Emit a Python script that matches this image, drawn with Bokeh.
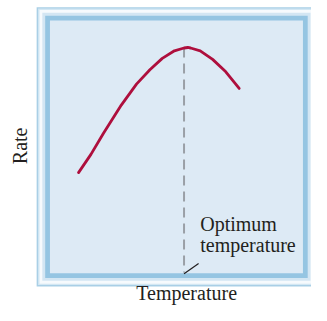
import math
from bokeh.plotting import figure
from bokeh.models import Range1d, ColumnDataSource
from bokeh.core.properties import value
from bokeh.embed import file_html
from bokeh.resources import INLINE

# ---- data (arbitrary units: 0-100 across the panel) ----
temperature = [11.3, 16.2, 21.1, 28.2, 34.2, 39.5, 44.4, 49.2, 53.0, 54.5, 55.6, 59.4, 64.3, 69.5, 74.8]
rate = [39.8, 47.0, 55.3, 66.5, 74.8, 80.5, 85.0, 88.0, 89.1, 89.3, 89.1, 88.0, 84.6, 79.7, 73.1]
optimum_temperature = 53.0
x_label = "Temperature"
y_label = "Rate"
annotation_lines = ["Optimum", "temperature"]

# ---- layout: reference-picture pixels, fitted into the figure ----
REF_W, REF_H = 327, 321
W, H = 311, 305
PANEL_L, PANEL_R, PANEL_T, PANEL_B = 52, 318, 21, 287
sx = (PANEL_R - PANEL_L) / 100.0
sy = (PANEL_B - PANEL_T) / 100.0


def dx(px):
    return (px - PANEL_L) / sx


def dy(py):
    return (PANEL_B - py) / sy


FONT = value("Liberation Serif")
FSIZE = value("20px")
TEXT_COLOR = "#231F20"

p = figure(width=W, height=H,
           x_range=Range1d(dx(0), dx(REF_W)), y_range=Range1d(dy(REF_H), dy(0)),
           x_axis_type=None, y_axis_type=None,
           output_backend="svg", toolbar_location=None,
           min_border=0, min_border_left=0, min_border_right=0,
           min_border_top=0, min_border_bottom=0)
p.outline_line_color = None
p.grid.visible = False
p.background_fill_color = "white"
p.border_fill_color = "white"

# ---- framed panel (nested bands, outsets in reference pixels) ----
layers = [
    (14.0, "#A9CFE6"),
    (12.5, "#D3E7F3"),
    (11.0, "#F6FAFD"),
    (8.0, "#D3E6F3"),
    (5.0, "#95C5E2"),
    (0.0, "#DDEAF5"),
]
frame_src = ColumnDataSource(dict(
    left=[0 - o / sx for o, c in layers],
    right=[100 + o / sx for o, c in layers],
    top=[100 + o / sy for o, c in layers],
    bottom=[0 - o / sy for o, c in layers],
    color=[c for o, c in layers],
))
p.quad(left="left", right="right", top="top", bottom="bottom",
       fill_color="color", line_color=None, source=frame_src)

# ---- dashed optimum line ----
peak_rate = max(rate)
p.line([optimum_temperature, optimum_temperature], [peak_rate, 0.3],
       line_color="#9A9FA6", line_width=2, line_dash="10 6")

# ---- rate curve ----
p.line(temperature, rate, line_color="#AE0F3D", line_width=2.8,
       line_join="round", line_cap="round")

# ---- leader line for the annotation ----
p.line([optimum_temperature, dx(208.3)], [dy(287.7), dy(276.7)],
       line_color="#231F20", line_width=1.2)

# ---- annotation text ----
p.text(x=[dx(210), dx(210)], y=[dy(234.7), dy(257.3)], text=annotation_lines,
       text_font=FONT, text_font_size=FSIZE, text_color=TEXT_COLOR,
       text_align="left", text_baseline="middle")

# ---- axis labels ----
p.text(x=[dx(195.7)], y=[dy(308.3)], text=[x_label],
       text_font=FONT, text_font_size=FSIZE, text_color=TEXT_COLOR,
       text_align="center", text_baseline="middle")
p.text(x=[dx(20.7)], y=[dy(153)], text=[y_label], angle=math.pi / 2,
       text_font=FONT, text_font_size=FSIZE, text_color=TEXT_COLOR,
       text_align="center", text_baseline="middle")

open("out.html", "w").write(file_html(p, INLINE))
